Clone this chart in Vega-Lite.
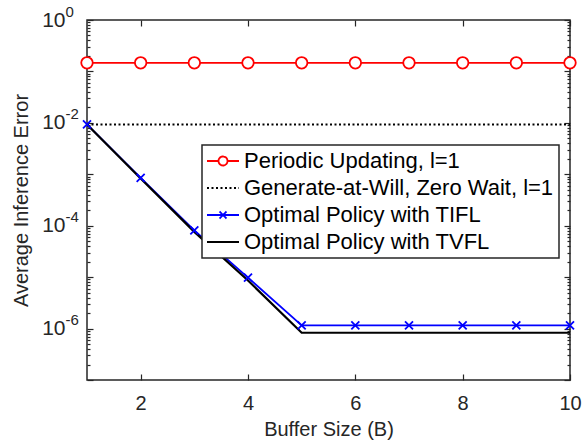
{
  "$schema": "https://vega.github.io/schema/vega-lite/v6.json",
  "autosize": {"type": "none"},
  "padding": {"left": 87, "top": 20, "right": 13, "bottom": 65},
  "width": 483,
  "height": 360,
  "background": "white",
  "config": {
    "view": {"stroke": "#262626", "strokeWidth": 1.5},
    "font": "Liberation Sans",
    "axis": {
      "grid": false,
      "domain": false,
      "labelFont": "Liberation Sans",
      "titleFont": "Liberation Sans",
      "labelColor": "#262626",
      "titleColor": "#262626",
      "tickColor": "#262626",
      "tickWidth": 1.2,
      "titleFontWeight": "normal",
      "labelFontSize": 20,
      "titleFontSize": 20
    },
    "legend": {
      "labelFont": "Liberation Sans",
      "labelFontSize": 22,
      "labelColor": "#000000",
      "labelLimit": 500
    }
  },
  "data": {
    "values": [
      {"B": 1, "err": 0.147, "series": "Periodic Updating, l=1"},
      {"B": 2, "err": 0.147, "series": "Periodic Updating, l=1"},
      {"B": 3, "err": 0.147, "series": "Periodic Updating, l=1"},
      {"B": 4, "err": 0.147, "series": "Periodic Updating, l=1"},
      {"B": 5, "err": 0.147, "series": "Periodic Updating, l=1"},
      {"B": 6, "err": 0.147, "series": "Periodic Updating, l=1"},
      {"B": 7, "err": 0.147, "series": "Periodic Updating, l=1"},
      {"B": 8, "err": 0.147, "series": "Periodic Updating, l=1"},
      {"B": 9, "err": 0.147, "series": "Periodic Updating, l=1"},
      {"B": 10, "err": 0.147, "series": "Periodic Updating, l=1"},
      {"B": 1, "err": 0.0093, "series": "Generate-at-Will, Zero Wait, l=1"},
      {"B": 10, "err": 0.0093, "series": "Generate-at-Will, Zero Wait, l=1"},
      {"B": 1, "err": 0.0093, "series": "Optimal Policy with TIFL"},
      {"B": 2, "err": 0.00085, "series": "Optimal Policy with TIFL"},
      {"B": 3, "err": 0.000081, "series": "Optimal Policy with TIFL"},
      {"B": 4, "err": 0.0000098, "series": "Optimal Policy with TIFL"},
      {"B": 5, "err": 0.00000115, "series": "Optimal Policy with TIFL"},
      {"B": 6, "err": 0.00000115, "series": "Optimal Policy with TIFL"},
      {"B": 7, "err": 0.00000115, "series": "Optimal Policy with TIFL"},
      {"B": 8, "err": 0.00000115, "series": "Optimal Policy with TIFL"},
      {"B": 9, "err": 0.00000115, "series": "Optimal Policy with TIFL"},
      {"B": 10, "err": 0.00000115, "series": "Optimal Policy with TIFL"},
      {"B": 1, "err": 0.0093, "series": "Optimal Policy with TVFL"},
      {"B": 2, "err": 0.00083, "series": "Optimal Policy with TVFL"},
      {"B": 3, "err": 0.000076, "series": "Optimal Policy with TVFL"},
      {"B": 4, "err": 0.0000086, "series": "Optimal Policy with TVFL"},
      {"B": 5, "err": 0.00000083, "series": "Optimal Policy with TVFL"},
      {"B": 6, "err": 0.00000083, "series": "Optimal Policy with TVFL"},
      {"B": 7, "err": 0.00000083, "series": "Optimal Policy with TVFL"},
      {"B": 8, "err": 0.00000083, "series": "Optimal Policy with TVFL"},
      {"B": 9, "err": 0.00000083, "series": "Optimal Policy with TVFL"},
      {"B": 10, "err": 0.00000083, "series": "Optimal Policy with TVFL"}
    ]
  },
  "layer": [
    {
      "transform": [{"filter": "datum.series === 'Periodic Updating, l=1'"}],
      "mark": {"type": "line", "strokeWidth": 1.8},
      "encoding": {
        "x": {"field": "B", "type": "quantitative", "scale": {"domain": [1, 10], "nice": false},
          "axis": {"orient": "bottom", "values": [2, 4, 6, 8, 10], "ticks": false, "labelPadding": 13, "title": "Buffer Size (B)", "titlePadding": 6, "labelFlush": false}},
        "y": {"field": "err", "type": "quantitative", "scale": {"type": "log", "domain": [1e-7, 1], "nice": false},
          "axis": {"orient": "left", "values": [1, 0.01, 0.0001, 0.000001], "labelExpr": "'10'", "labelFontSize": 21, "ticks": false, "labelPadding": 22, "title": "Average Inference Error", "titlePadding": 10}},
        "color": {"field": "series", "type": "nominal",
          "scale": {"domain": ["Periodic Updating, l=1", "Generate-at-Will, Zero Wait, l=1", "Optimal Policy with TIFL", "Optimal Policy with TVFL"],
                    "range": ["#ff0000", "#000000", "#0000ff", "#000000"]},
          "legend": {
            "title": null, "orient": "none", "legendX": 115, "legendY": 125,
            "symbolType": "stroke", "symbolSize": 400, "symbolStrokeWidth": 1.8,
            "padding": 5, "symbolOffset": 5, "labelOffset": 10, "rowPadding": 5,
            "strokeColor": "#262626", "fillColor": "white",
            "encode": {
              "legend": {"update": {"strokeWidth": {"value": 1.5}}},
              "symbols": {"update": {
                "shape": {"signal": "datum.value === 'Periodic Updating, l=1' ? 'M-1.6,0H-0.45M0.45,0H1.6M-0.45,0A0.45,0.45 0 1,0 0.45,0A0.45,0.45 0 1,0 -0.45,0' : datum.value === 'Optimal Policy with TIFL' ? 'M-1.6,0H1.6M-0.35,-0.35L0.35,0.35M-0.35,0.35L0.35,-0.35' : 'M-1.6,0H1.6'"},
                "strokeDash": {"signal": "datum.value === 'Generate-at-Will, Zero Wait, l=1' ? [2, 2.5] : [1, 0]"},
                "fill": {"value": "white"}
              }}
            }
          }}
      }
    },
    {
      "transform": [{"filter": "datum.series === 'Generate-at-Will, Zero Wait, l=1'"}],
      "mark": {"type": "line", "strokeWidth": 1.8, "strokeDash": [2, 2.5]},
      "encoding": {
        "x": {"field": "B", "type": "quantitative",
          "axis": {"orient": "bottom", "values": [2, 4, 6, 8, 10], "labels": false, "tickSize": 6, "offset": -6, "title": null}},
        "y": {"field": "err", "type": "quantitative",
          "axis": {"orient": "left", "values": [1, 0.01, 0.0001, 0.000001], "labelExpr": "datum.value > 0.5 ? '0' : datum.value > 0.005 ? '-2' : datum.value > 0.00005 ? '-4' : '-6'", "labelFontSize": 15, "labelAlign": "left", "ticks": false, "labelPadding": 22, "labelOffset": -9, "title": null}},
        "color": {"field": "series", "type": "nominal"}
      }
    },
    {
      "transform": [{"filter": "datum.series === 'Optimal Policy with TIFL'"}],
      "mark": {"type": "line", "strokeWidth": 1.8},
      "encoding": {
        "x": {"field": "B", "type": "quantitative",
          "axis": {"orient": "top", "values": [2, 4, 6, 8, 10], "labels": false, "tickSize": 6, "offset": -6, "title": null}},
        "y": {"field": "err", "type": "quantitative",
          "axis": {"orient": "left", "values": [1, 0.1, 0.01, 0.001, 0.0001, 0.00001, 0.000001, 0.0000001], "labels": false, "tickSize": 6, "offset": -6, "title": null}},
        "color": {"field": "series", "type": "nominal"}
      }
    },
    {
      "transform": [{"filter": "datum.series === 'Optimal Policy with TVFL'"}],
      "mark": {"type": "line", "strokeWidth": 2.2},
      "encoding": {
        "x": {"field": "B", "type": "quantitative", "axis": null},
        "y": {"field": "err", "type": "quantitative",
          "axis": {"orient": "left", "labels": false, "tickSize": 3, "offset": -3, "title": null,
            "values": [2e-7, 3e-7, 4e-7, 5e-7, 6e-7, 7e-7, 8e-7, 9e-7, 2e-6, 3e-6, 4e-6, 5e-6, 6e-6, 7e-6, 8e-6, 9e-6, 2e-5, 3e-5, 4e-5, 5e-5, 6e-5, 7e-5, 8e-5, 9e-5, 2e-4, 3e-4, 4e-4, 5e-4, 6e-4, 7e-4, 8e-4, 9e-4, 2e-3, 3e-3, 4e-3, 5e-3, 6e-3, 7e-3, 8e-3, 9e-3, 2e-2, 3e-2, 4e-2, 5e-2, 6e-2, 7e-2, 8e-2, 9e-2, 2e-1, 3e-1, 4e-1, 5e-1, 6e-1, 7e-1, 8e-1, 9e-1]}},
        "color": {"field": "series", "type": "nominal"}
      }
    },
    {
      "transform": [{"filter": "datum.series === 'Periodic Updating, l=1'"}],
      "mark": {"type": "point", "shape": "circle", "size": 133, "filled": true, "fill": "white", "stroke": "#ff0000", "strokeWidth": 1.8, "opacity": 1},
      "encoding": {
        "x": {"field": "B", "type": "quantitative", "axis": null},
        "y": {"field": "err", "type": "quantitative",
          "axis": {"orient": "right", "values": [1, 0.1, 0.01, 0.001, 0.0001, 0.00001, 0.000001, 0.0000001], "labels": false, "tickSize": 6, "offset": -6, "title": null}}
      }
    },
    {
      "transform": [{"filter": "datum.series === 'Optimal Policy with TIFL'"}],
      "mark": {"type": "point", "shape": "M-1,-1L1,1M-1,1L1,-1", "size": 64, "filled": false, "stroke": "#0000ff", "strokeWidth": 1.8, "opacity": 1},
      "encoding": {
        "x": {"field": "B", "type": "quantitative", "axis": null},
        "y": {"field": "err", "type": "quantitative",
          "axis": {"orient": "right", "labels": false, "tickSize": 3, "offset": -3, "title": null,
            "values": [2e-7, 3e-7, 4e-7, 5e-7, 6e-7, 7e-7, 8e-7, 9e-7, 2e-6, 3e-6, 4e-6, 5e-6, 6e-6, 7e-6, 8e-6, 9e-6, 2e-5, 3e-5, 4e-5, 5e-5, 6e-5, 7e-5, 8e-5, 9e-5, 2e-4, 3e-4, 4e-4, 5e-4, 6e-4, 7e-4, 8e-4, 9e-4, 2e-3, 3e-3, 4e-3, 5e-3, 6e-3, 7e-3, 8e-3, 9e-3, 2e-2, 3e-2, 4e-2, 5e-2, 6e-2, 7e-2, 8e-2, 9e-2, 2e-1, 3e-1, 4e-1, 5e-1, 6e-1, 7e-1, 8e-1, 9e-1]}}
      }
    }
  ],
  "resolve": {"axis": {"x": "independent", "y": "independent"}}
}
